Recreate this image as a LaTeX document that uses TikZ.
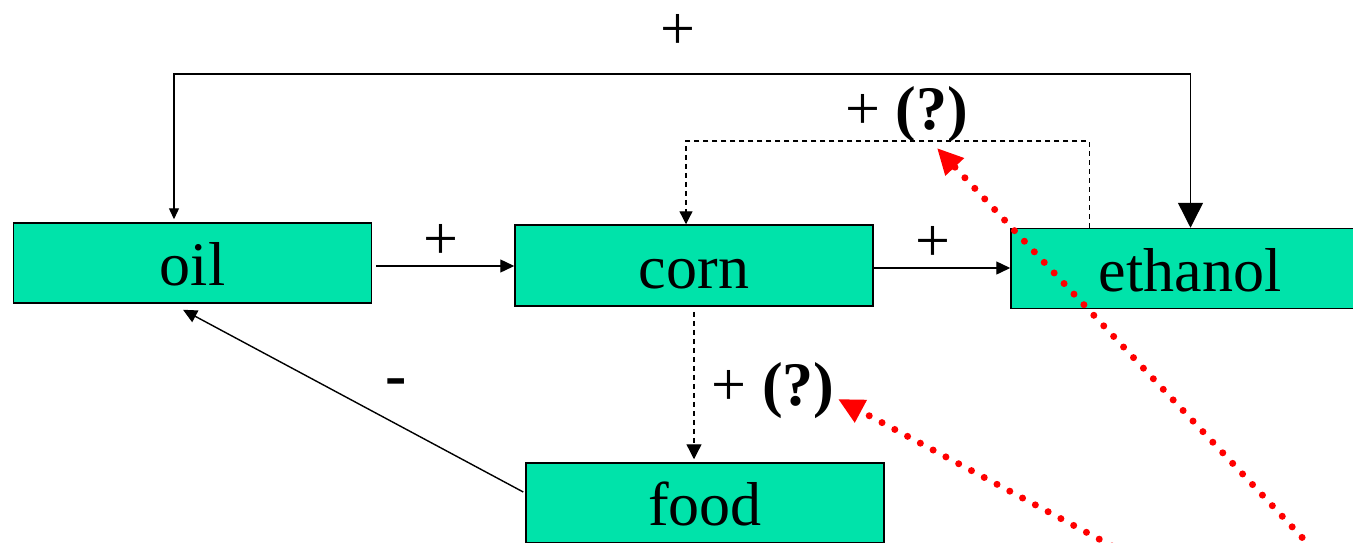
\documentclass[tikz,border=0pt]{standalone}
\usepackage{fontspec}
\setmainfont{Liberation Serif}
\usetikzlibrary{arrows.meta,calc}
\definecolor{boxgreen}{RGB}{0,227,170}
\begin{document}
\begin{tikzpicture}[x=1pt,y=-1pt,
  box/.style={draw=black,line width=1.5pt,fill=boxgreen,minimum width=358pt,minimum height=80pt,
    inner sep=0pt,text height=45pt,text depth=0pt,font=\fontsize{62}{70}\selectfont},
  lbl/.style={inner sep=0pt,font=\fontsize{62}{70}\selectfont},
  conn/.style={line width=1.4pt,black},
  dconn/.style={line width=1.3pt,black,dash pattern=on 5pt off 4pt},
  redarr/.style={red,line width=7pt,line cap=round,dash pattern=on 0pt off 14.5pt,
    -{Triangle[length=26pt,width=24pt]}},
  smalltip/.style={-{Triangle[length=14pt,width=13pt]}}
]
\useasboundingbox (0,0) rectangle (1353,542);
\clip (0,0) rectangle (1353,542);

% boxes
\node[box] (oil) at (192.5,263) {oil};
\node[box,minimum height=81pt] (corn) at (694,265.5) {corn};
\node[box] (eth) at (1190,268.5) {ethanol};
\node[box] (food) at (705,503) {food};

% labels
\node[lbl] (ptop) at (677.5,32) {+};
\node[lbl] (p1) at (441,242) {+};
\node[lbl] (p2) at (933,244) {+};
\node[lbl] (q1) at (906.5,115) {+ \textbf{(?)}};
\node[lbl] (q2) at (773,391) {+ \textbf{(?)}};
\node[lbl,font=\bfseries\fontsize{64}{70}\selectfont] (m) at (396,388) {-};

% corner coordinates
\coordinate (tl) at (174,74);
\coordinate (tr) at (1190.5,74);
\coordinate (dl) at (686,141);
\coordinate (dr) at (1089.5,141);

% connectors
\draw[conn,smalltip] ([xshift=4pt,yshift=-3pt]oil.east) -- ([yshift=-3pt]oil.east -| corn.west);
\draw[conn,smalltip] ([yshift=-2.5pt]corn.east) -- ([yshift=-2.5pt]corn.east -| eth.west);
\draw[conn,{Triangle[length=11pt,width=10pt]}-{Triangle[length=25pt,width=25pt]}]
  ([yshift=3pt]oil.north -| tl) -- (tl) -- (tr) -- (tr |- eth.north);
\draw[dconn,-{Triangle[length=13pt,width=13pt]}] (dr |- eth.north) -- (dr) -- (dl) -- (dl |- corn.north);
\draw[dconn,-{Triangle[length=15pt,width=15pt]}] ([yshift=-5pt]corn.south) -- ([yshift=3pt]food.north -| corn.south);
\draw[conn,smalltip] ([xshift=-2pt,yshift=11pt]food.west) -- ([xshift=-9.5pt,yshift=-6pt]oil.south);

% red pointers
\coordinate (r1s) at (1312,548);
\coordinate (r1t) at (937,148);
\coordinate (r2s) at (1112,546);
\coordinate (r2t) at (838,399);
\draw[redarr] (r1s) -- (r1t);
\draw[redarr] (r2s) -- (r2t);
\end{tikzpicture}
\end{document}
